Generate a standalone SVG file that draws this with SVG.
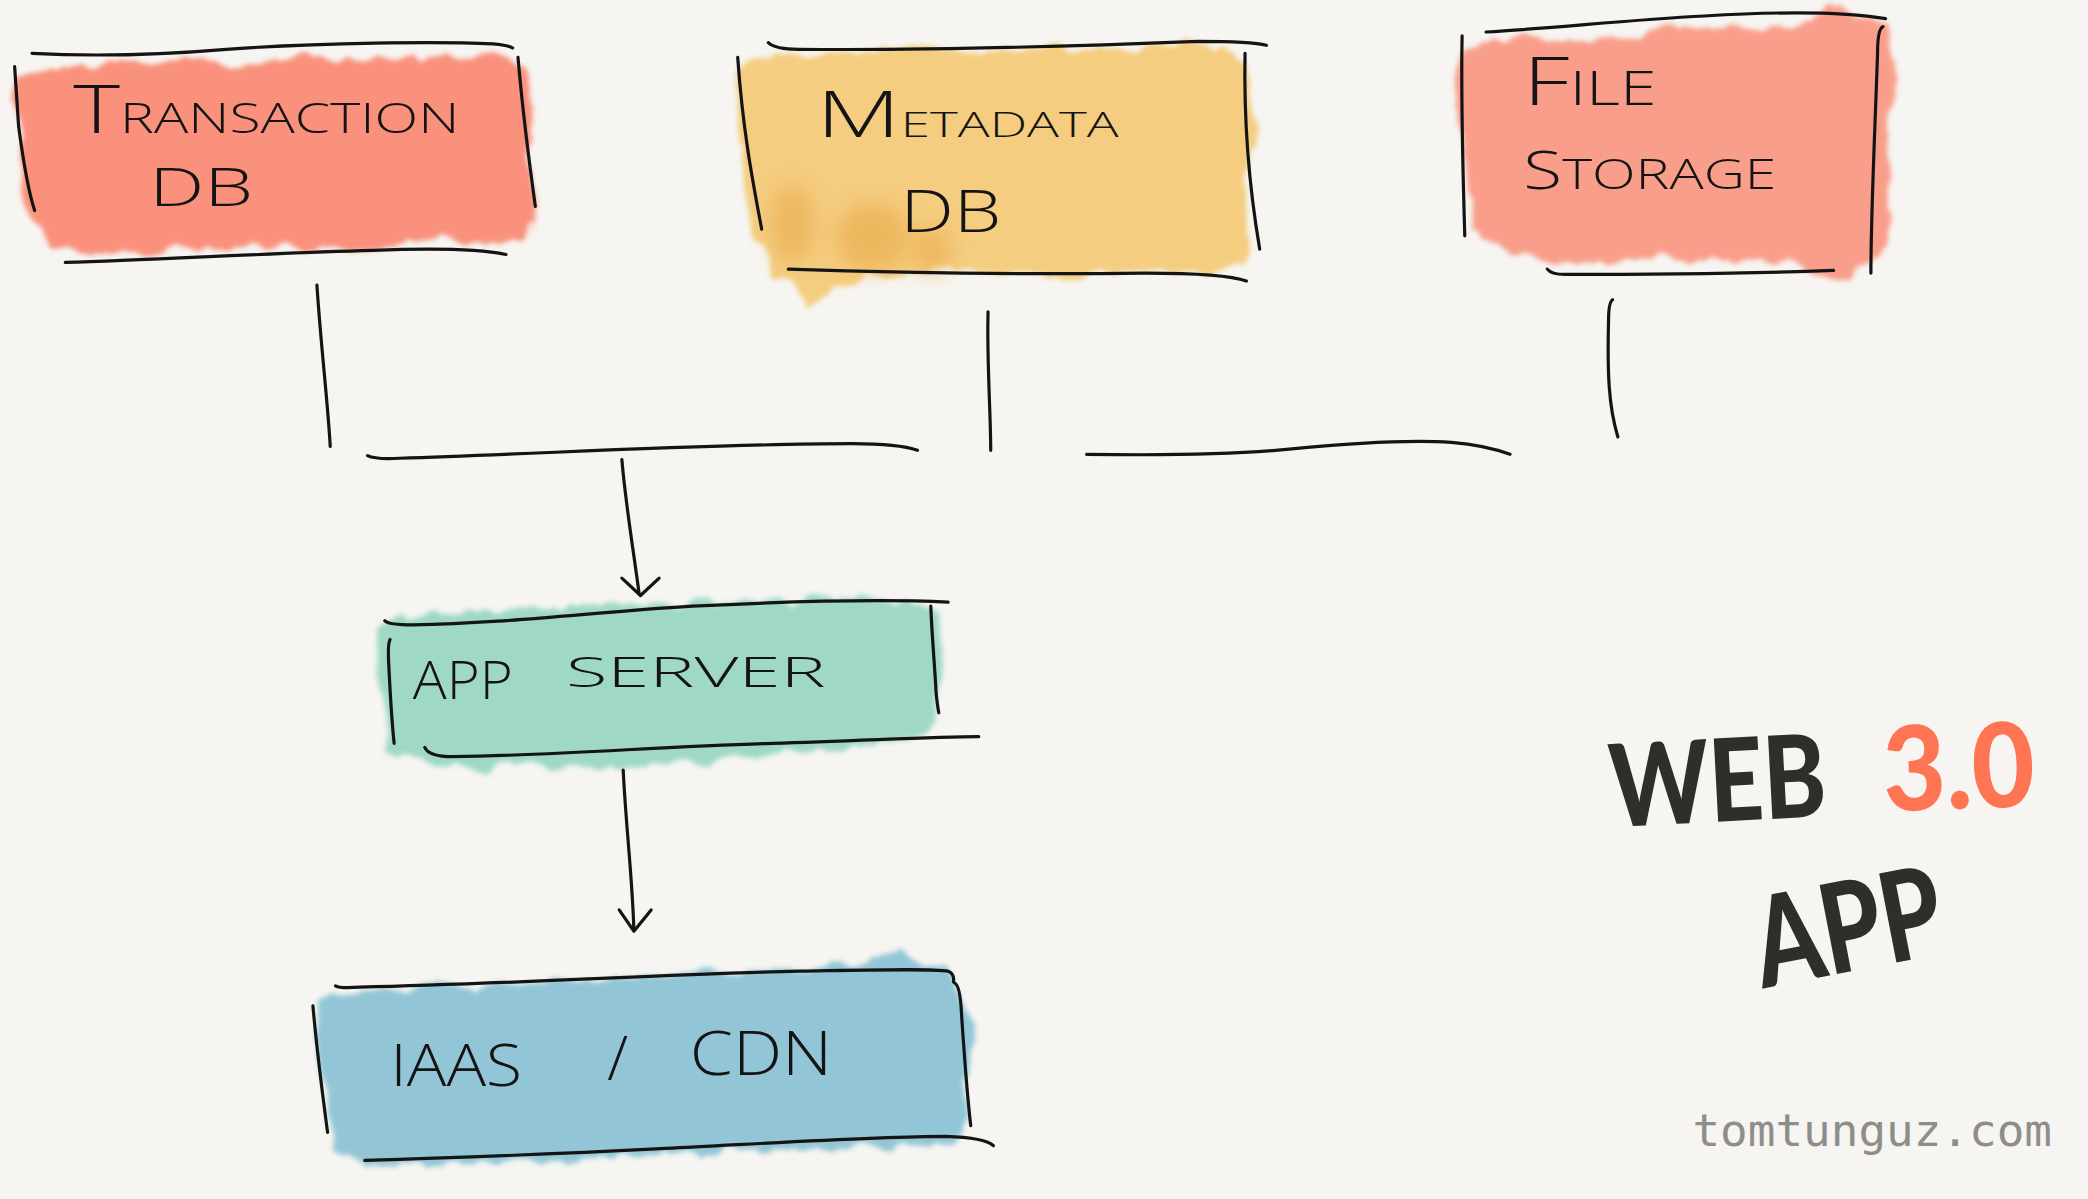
<svg xmlns="http://www.w3.org/2000/svg" width="2088" height="1199" viewBox="0 0 2088 1199">
<defs>
<style>
.ln{fill:none;stroke:#141414;stroke-width:2.4;stroke-linecap:round;stroke-linejoin:round}
.hw{font-family:"Open Sans","Liberation Sans","DejaVu Sans",sans-serif;font-weight:300;fill:#141414}
.big{font-family:Lato,"DejaVu Sans",sans-serif;font-weight:900;fill:#2f2e2a}
.blob{filter:url(#wc)}
</style>
<filter id="wc" x="-10%" y="-25%" width="120%" height="150%">
<feTurbulence type="fractalNoise" baseFrequency="0.05 0.025" numOctaves="3" seed="4" result="n"/>
<feDisplacementMap in="SourceGraphic" in2="n" scale="18" xChannelSelector="R" yChannelSelector="G" result="d"/>
<feGaussianBlur in="d" stdDeviation="2"/>
</filter>
<filter id="soft" x="-50%" y="-50%" width="200%" height="200%">
<feGaussianBlur stdDeviation="8"/>
</filter>
</defs>
<rect width="2088" height="1199" fill="#f6f5f1"/>
<g transform="scale(1.3316 1.3322)">
<g id="transaction-db">
<path class="blob" fill="#f9917b" d="M12,58 L30,52 L60,50 L100,47 L140,44 L180,49 L230,42 L280,45 L320,43 L370,41 L395,50 L400,80 L397,120 L401,160 L396,180 L360,184 L330,180 L300,186 L270,188 L240,184 L200,186 L160,185 L120,190 L85,192 L60,190 L40,182 L22,160 L14,120 Z"/>
<path class="ln" d="M24,40 C60,42 110,42 170,37 C240,32 330,31 370,33 Q382,34 385,36"/>
<path class="ln" d="M49,197 C120,195 200,190 280,188 C330,186 360,187 380,191"/>
<path class="ln" d="M11,50 L14,95 Q20,140 26,158"/>
<path class="ln" d="M389,43 C393,90 396,110 402,155"/>
<text class="hw" x="55" y="100" font-size="32" textLength="290" lengthAdjust="spacingAndGlyphs"><tspan font-size="50">T</tspan>RANSACTION</text>
<text class="hw" x="112" y="155" font-size="40" textLength="78" lengthAdjust="spacingAndGlyphs">DB</text>
</g>
<g id="metadata-db">
<path class="blob" fill="#f4cd80" d="M556,48 L580,42 L620,40 L660,38 L700,35 L740,40 L780,36 L830,38 L880,33 L920,36 L938,45 L940,100 L936,150 L938,190 L930,200 L900,205 L860,204 L820,205 L780,206 L740,204 L700,203 L680,208 L650,210 L625,215 L605,226 L596,215 L580,205 L568,180 L560,140 L554,100 Z"/>
<g filter="url(#soft)" fill="#e9a643" opacity="0.55">
<ellipse cx="595" cy="168" rx="16" ry="30"/>
<ellipse cx="655" cy="178" rx="28" ry="26"/>
<ellipse cx="700" cy="188" rx="14" ry="18"/>
</g>
<path class="ln" d="M577,32 Q582,37 600,37 C700,38 800,35 900,31 Q940,31 951,34"/>
<path class="ln" d="M592,202 C680,205 780,206 860,205 Q920,205 936,211"/>
<path class="ln" d="M554,43 C558,100 566,140 572,172"/>
<path class="ln" d="M935,40 C934,90 938,140 946,187"/>
<text class="hw" x="613" y="103" font-size="26" textLength="227" lengthAdjust="spacingAndGlyphs"><tspan font-size="48">M</tspan>ETADATA</text>
<text class="hw" x="676" y="174" font-size="44" textLength="76" lengthAdjust="spacingAndGlyphs">DB</text>
</g>
<g id="file-storage">
<path class="blob" fill="#f99e8a" d="M1096,40 L1120,30 L1160,28 L1200,30 L1240,25 L1280,22 L1320,22 L1360,15 L1378,3 L1395,10 L1418,20 L1422,60 L1418,120 L1420,170 L1412,195 L1395,200 L1388,212 L1375,210 L1340,195 L1300,196 L1260,194 L1220,196 L1190,198 L1160,195 L1130,190 L1105,175 L1100,120 L1094,80 Z"/>
<path class="ln" d="M1116,24 C1170,21 1220,15 1280,12 C1330,9 1380,8 1416,14"/>
<path class="ln" d="M1098,27 C1097,80 1099,140 1100,177"/>
<path class="ln" d="M1414,20 Q1410,22 1410,40 C1408,100 1405,160 1405,205"/>
<path class="ln" d="M1162,202 Q1165,206 1175,206 C1250,206 1320,205 1377,203"/>
<text class="hw" x="1144" y="79" font-size="36" textLength="100" lengthAdjust="spacingAndGlyphs"><tspan font-size="50">F</tspan>ILE</text>
<text class="hw" x="1144" y="142" font-size="32" textLength="190" lengthAdjust="spacingAndGlyphs"><tspan font-size="40">S</tspan>TORAGE</text>
</g>
<g id="app-server">
<path class="blob" fill="#9fd9c5" d="M284,475 L300,462 L340,460 L400,458 L460,455 L520,452 L560,450 L620,451 L680,450 L705,460 L708,500 L704,540 L690,555 L640,560 L600,565 L560,568 L520,572 L480,574 L440,576 L400,575 L360,576 L320,574 L292,566 L286,530 L282,500 Z"/>
<path class="ln" d="M289,466 Q292,469 310,469 C380,468 440,460 520,455 C600,451 670,450 712,452"/>
<path class="ln" d="M293,480 Q291,483 292,500 C293,520 294,540 296,558"/>
<path class="ln" d="M699,455 C700,480 702,500 703,520 Q704,530 705,535"/>
<path class="ln" d="M319,561 Q322,568 340,568 C420,567 500,560 580,558 C650,556 700,553 735,553"/>
<text class="hw" x="310" y="525" font-size="40" textLength="75" lengthAdjust="spacingAndGlyphs">APP</text>
<text class="hw" x="425" y="516" font-size="32" textLength="195" lengthAdjust="spacingAndGlyphs">SERVER</text>
</g>
<g id="iaas-cdn">
<path class="blob" fill="#92c6d6" d="M238,752 L260,742 L300,744 L350,740 L400,738 L450,735 L500,732 L550,730 L600,728 L650,722 L675,712 L690,720 L715,732 L728,760 L726,800 L728,840 L718,855 L680,858 L640,860 L600,863 L560,865 L520,868 L480,868 L440,870 L400,872 L360,872 L320,874 L280,876 L252,864 L245,830 L238,790 Z"/>
<path class="ln" d="M252,740 Q255,742 270,741 C400,738 500,731 600,729 C660,728 700,727 712,729 Q717,731 716,737"/>
<path class="ln" d="M235,755 C238,790 242,820 246,850"/>
<path class="ln" d="M717,738 Q721,740 722,760 C724,790 726,820 729,845"/>
<path class="ln" d="M274,871 C350,869 420,866 500,862 C580,858 660,853 710,853 Q740,854 746,860"/>
<text class="hw" x="293" y="815" font-size="44" textLength="99" lengthAdjust="spacingAndGlyphs">IAAS</text>
<text class="hw" x="456" y="811" font-size="46">/</text>
<text class="hw" x="518" y="807" font-size="46" textLength="107" lengthAdjust="spacingAndGlyphs">CDN</text>
</g>
<g id="connectors">
<path class="ln" d="M238,214 C241,260 246,300 248,335"/>
<path class="ln" d="M742,234 C741,270 744,310 744,338"/>
<path class="ln" d="M1211,225 Q1208,227 1208,240 C1207,280 1208,305 1215,328"/>
<path class="ln" d="M276,342 Q282,345 300,344 C420,340 540,333 640,333 Q675,333 689,338"/>
<path class="ln" d="M816,341 C880,342 930,341 970,337 C1020,332 1060,330 1090,332 Q1115,334 1134,341"/>
<path class="ln" d="M467,345 C470,380 476,415 480,446"/>
<path class="ln" d="M467,434 L481,447 L495,434"/>
<path class="ln" d="M468,578 C470,620 475,660 476,698"/>
<path class="ln" d="M465,683 L476,699 L489,683"/>
</g>
<g id="title">
<text class="big" x="1210" y="621" font-size="86" textLength="163" lengthAdjust="spacingAndGlyphs" transform="rotate(-3 1210 621)">WEB</text>
<text class="big" x="1415" y="609" font-size="88" textLength="114" lengthAdjust="spacingAndGlyphs" style="fill:#ff7452" transform="rotate(-2 1415 609)">3.0</text>
<text class="big" x="1324" y="742" font-size="94" textLength="142" lengthAdjust="spacingAndGlyphs" transform="rotate(-11 1324 742)">APP</text>
</g>
<text x="1271" y="860" font-family="'DejaVu Sans Mono','Liberation Mono',monospace" font-size="34" fill="#8e8d89" textLength="270" lengthAdjust="spacingAndGlyphs">tomtunguz.com</text>
</g>
</svg>
